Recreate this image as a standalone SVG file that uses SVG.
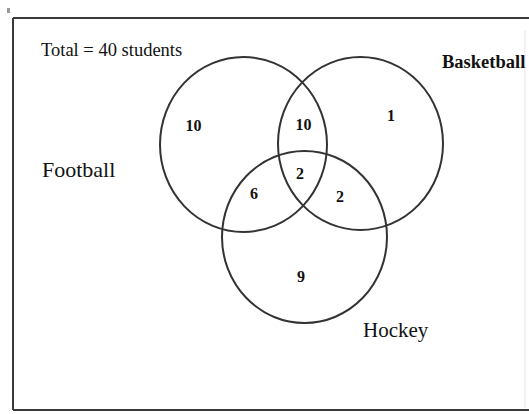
<svg xmlns="http://www.w3.org/2000/svg" width="529" height="414" viewBox="0 0 529 414">
<style>
.frame{fill:none;stroke:#3a3a3a;stroke-width:2}
.set{fill:none;stroke:#333;stroke-width:2}
.lbl{font-family:"Liberation Serif","Times New Roman",serif;fill:#111}
.num{font-family:"Liberation Serif","Times New Roman",serif;font-weight:bold;font-size:16px;fill:#111;text-anchor:middle}
</style>
<rect width="529" height="414" fill="#fff"/>
<rect x="7" y="8" width="3" height="5" fill="#999"/>
<g id="frame">
<line class="frame" x1="13" y1="18" x2="529" y2="18"/>
<line class="frame" x1="13" y1="18" x2="13" y2="410"/>
<line class="frame" x1="13" y1="410" x2="529" y2="410"/>
<line x1="525" y1="30" x2="525" y2="408" stroke="#e4e4e4" stroke-width="1"/>
</g>
<g id="title"><text class="lbl" x="41" y="56" font-size="18.5">Total = 40 students</text></g>
<g id="football">
<ellipse class="set" cx="243.5" cy="144.5" rx="83.5" ry="87.5"/>
<text class="lbl" x="42" y="177" font-size="22">Football</text>
</g>
<g id="basketball">
<ellipse class="set" cx="360.5" cy="143.5" rx="82.5" ry="86.5"/>
<text class="lbl" x="442" y="68" font-size="18.5" font-weight="bold">Basketball</text>
</g>
<g id="hockey">
<ellipse class="set" cx="304.5" cy="237" rx="82.5" ry="86"/>
<text class="lbl" x="363" y="337" font-size="21">Hockey</text>
</g>
<g id="counts">
<text class="num" x="193.5" y="131">10</text>
<text class="num" x="303.5" y="130">10</text>
<text class="num" x="391" y="121">1</text>
<text class="num" x="300" y="179">2</text>
<text class="num" x="254" y="199">6</text>
<text class="num" x="340" y="202">2</text>
<text class="num" x="301" y="282">9</text>
</g>
<g id="connectors"></g>
</svg>
